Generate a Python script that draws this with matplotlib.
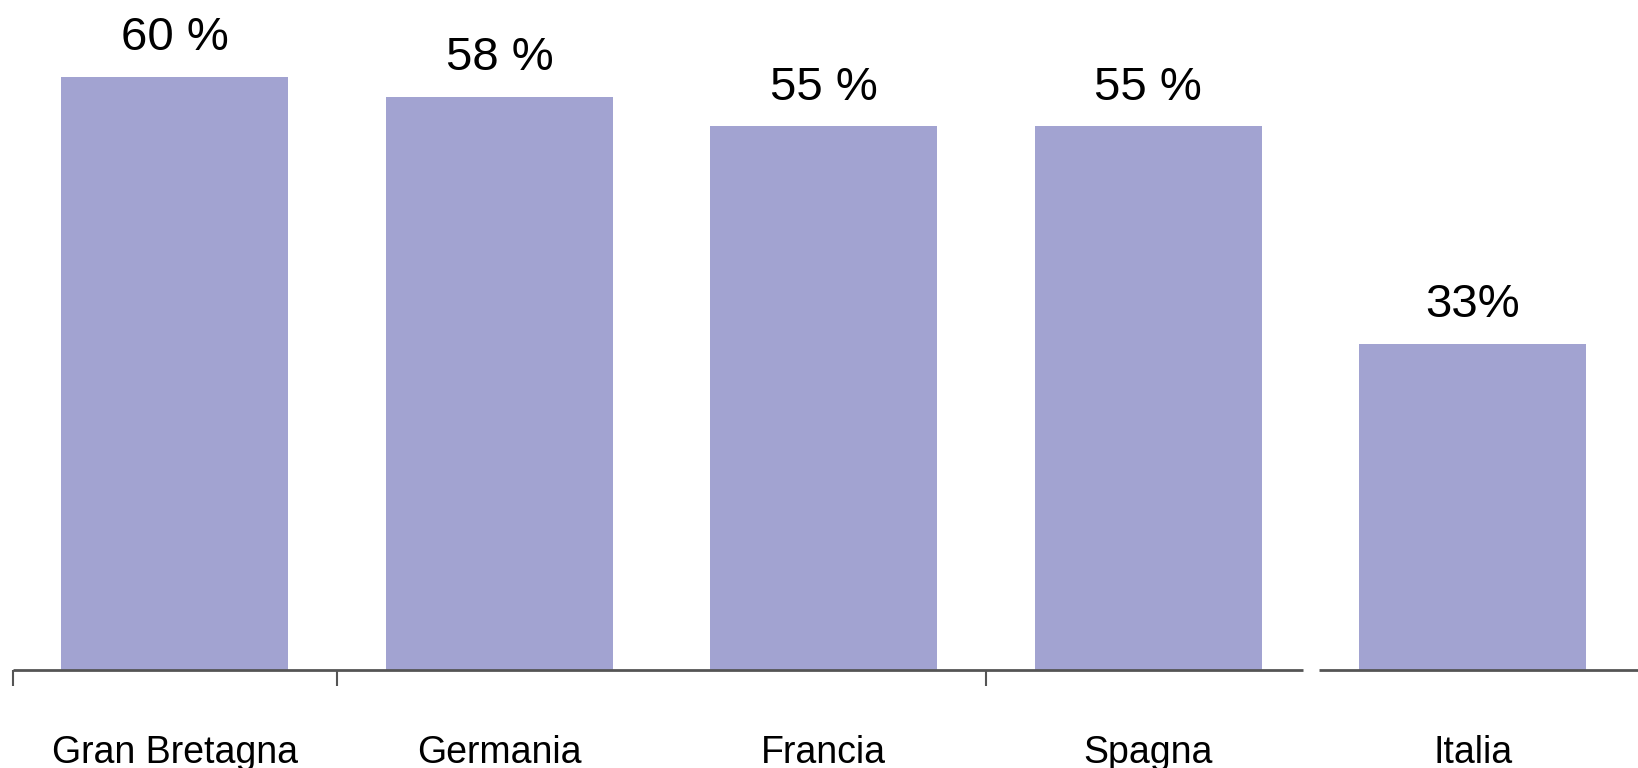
import matplotlib.pyplot as plt

countries = ["Gran Bretagna", "Germania", "Francia", "Spagna", "Italia"]
values = [60, 58, 55, 55, 33]
value_labels = ["60 %", "58 %", "55 %", "55 %", "33%"]

bar_color = "#a2a3d1"
axis_color = "#555555"

fig = plt.figure(figsize=(16.38, 7.68), dpi=100)
ax = fig.add_axes([0, 0, 1, 1])
x = list(range(len(countries)))

ax.bar(x, values, width=0.7, color=bar_color)

# baseline, broken before the last bar, with a few odd ticks
ax.hlines(0, -0.5, 3.478, color=axis_color, lw=2)
ax.hlines(0, 3.525, 4.51, color=axis_color, lw=2)
ax.vlines([-0.5, 0.5, 2.5], -1.6, 0, color=axis_color, lw=1.5)

for xi, v, lab in zip(x, values, value_labels):
    ax.annotate(lab, (xi, v), xytext=(0, 28), textcoords="offset points",
                ha="center", va="center", fontsize=34,
                family=["Liberation Sans", "DejaVu Sans"])

for xi, name in zip(x, countries):
    ax.text(xi, -8.4, name, ha="center", va="center", fontsize=27,
            family=["Liberation Sans", "DejaVu Sans"])

ax.set_xlim(-0.539, 4.509)
ax.set_ylim(-9.92, 67.8)
ax.axis("off")

fig.savefig("out.png", dpi=100)
